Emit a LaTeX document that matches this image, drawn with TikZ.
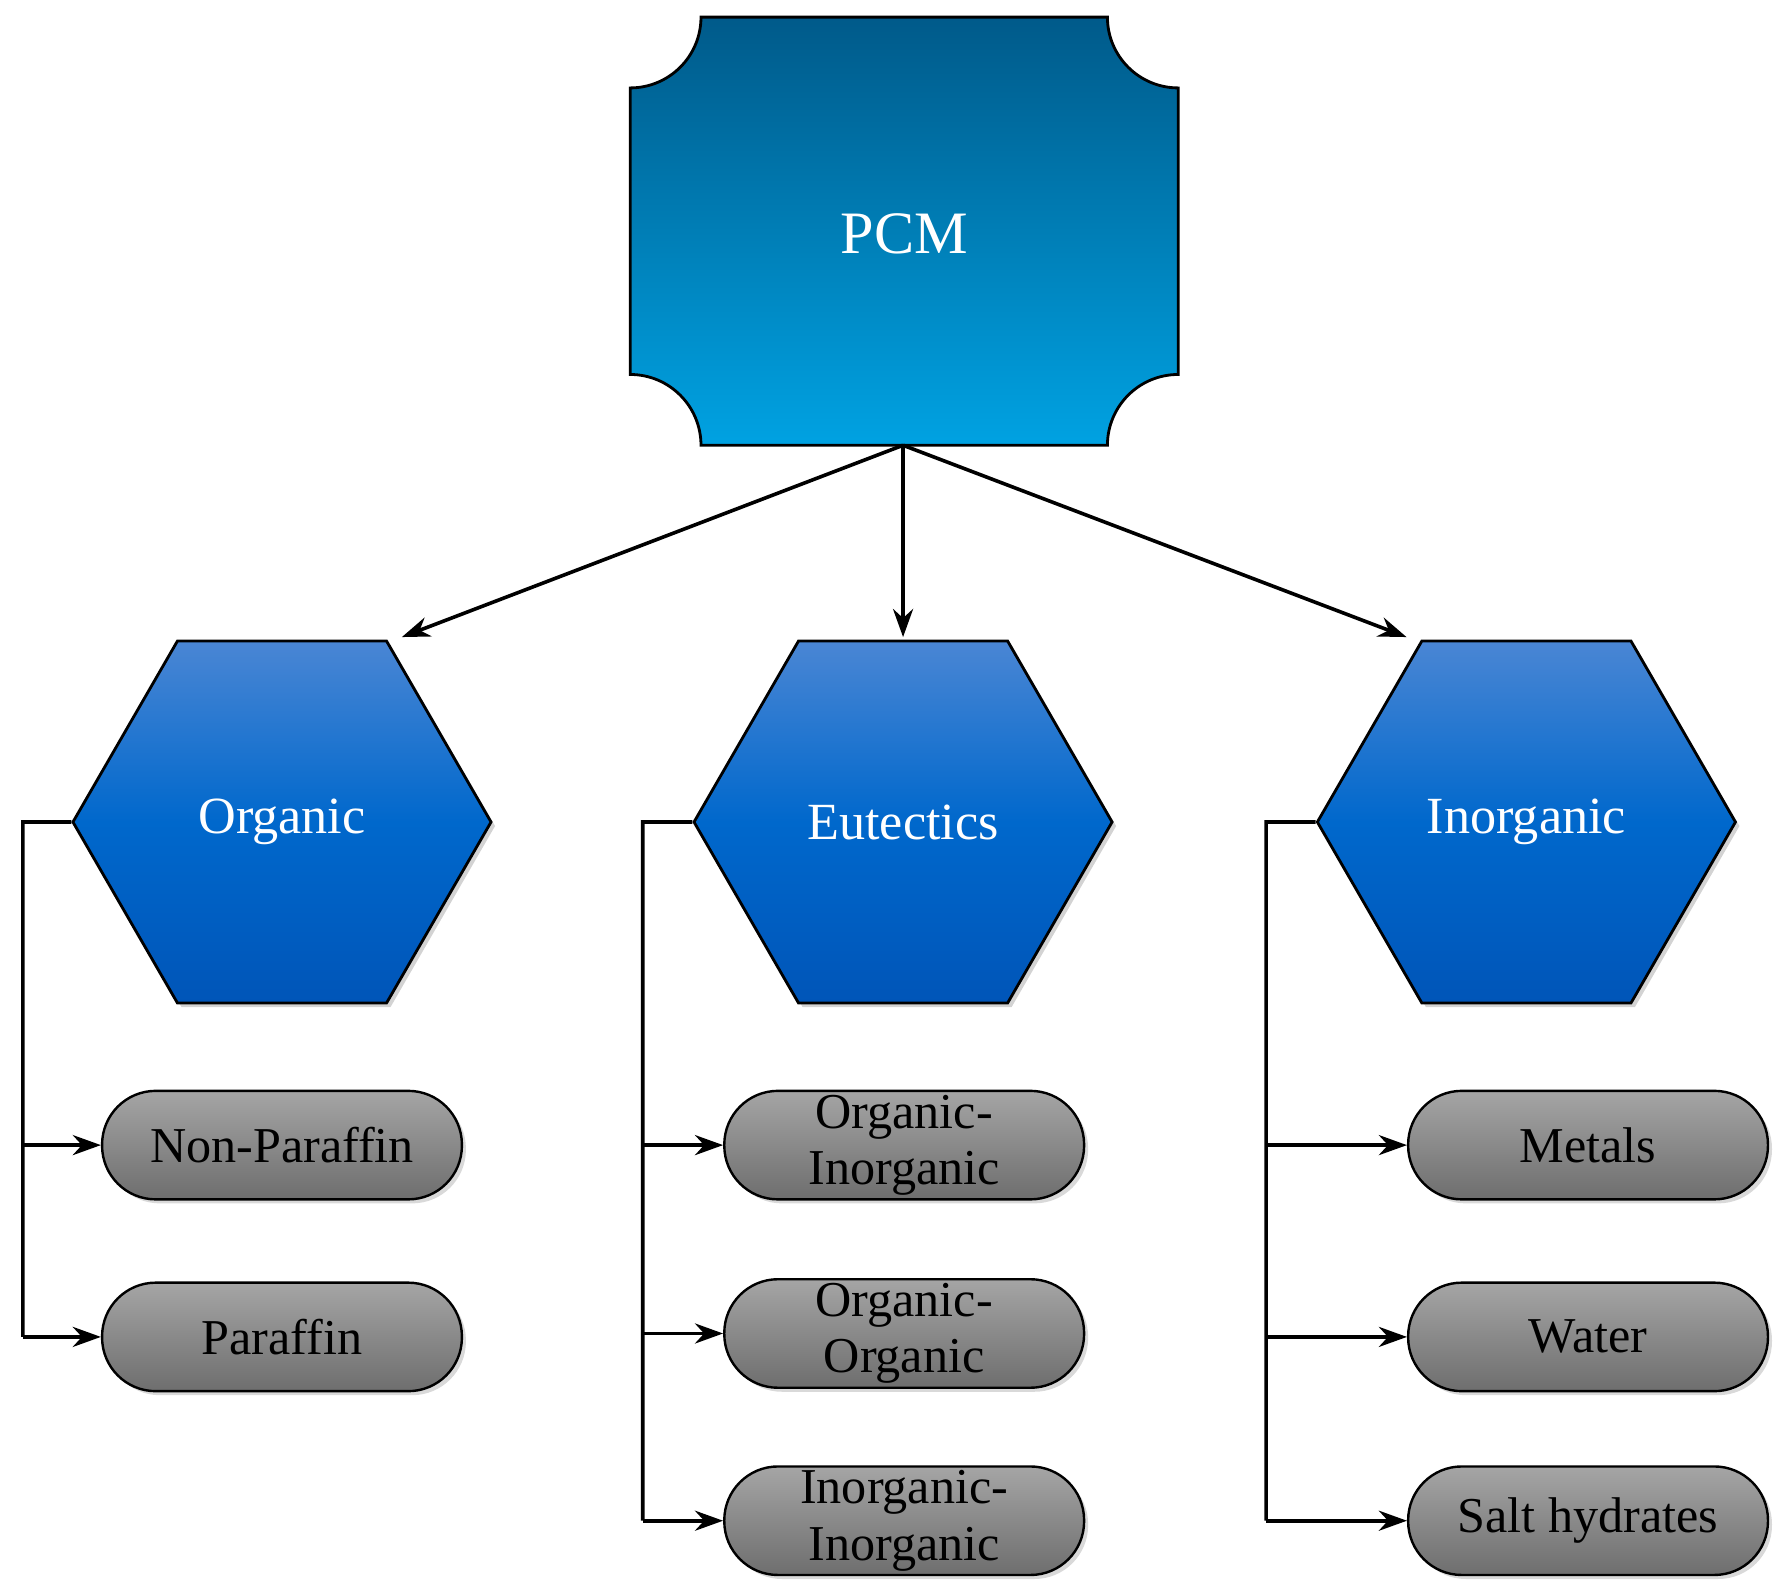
\documentclass[tikz,border=0pt]{standalone}
\usepackage{fontspec}
\setmainfont{Liberation Serif}
\usetikzlibrary{shapes.geometric,arrows.meta,shadows}
\begin{document}
\begin{tikzpicture}[x=0.01cm,y=-0.01cm,
 hex/.style={regular polygon,regular polygon sides=6,minimum size=3.66cm,inner sep=0pt,draw=black,line width=0.7pt,
   top color={rgb,255:red,74;green,134;blue,212},bottom color={rgb,255:red,0;green,85;blue,184},middle color={rgb,255:red,0;green,104;blue,204},
   text=white,font=\fontsize{13}{14}\selectfont,drop shadow={opacity=0.35,shadow xshift=1pt,shadow yshift=-1pt}},
 pill/.style={draw=black,line width=0.6pt,rounded corners=0.47cm,minimum width=3.15cm,minimum height=0.95cm,inner sep=0pt,
   top color={rgb,255:red,165;green,165;blue,165},bottom color={rgb,255:red,110;green,110;blue,110},
   align=center,font=\fontsize{12.5}{14}\selectfont,drop shadow={opacity=0.3,shadow xshift=1pt,shadow yshift=-1pt}},
 arr/.style={-{Stealth[length=7pt,width=5pt]},line width=0.9pt},
 ln/.style={line width=0.9pt}]
\useasboundingbox (0,0) rectangle (1560,1393);
% PCM shape
\draw[line width=0.7pt,top color={rgb,255:red,0;green,90;blue,138},bottom color={rgb,255:red,0;green,162;blue,226}]
 (614,15) -- (970,15) arc[start angle=180,end angle=90,radius=62] -- (1032,328)
 arc[start angle=270,end angle=180,radius=62] -- (614,390) arc[start angle=0,end angle=-90,radius=62]
 -- (552,77) arc[start angle=90,end angle=0,radius=62] -- cycle;
\node[text=white,font=\fontsize{15}{16}\selectfont] (pcm) at (792,205) {PCM};
\coordinate (pcmb) at (791,390);
% hexagons
\node[hex] (org) at (247,720) {Organic};
\node[hex] (eut) at (791,720) {Eutectics};
\node[hex] (ino) at (1337,720) {Inorganic};
\coordinate (orgT) at (352,558);
\coordinate (eutT) at (791,558);
\coordinate (inoT) at (1232,558);
\draw[arr] (pcmb) -- (orgT);
\draw[arr] (pcmb) -- (eutT);
\draw[arr] (pcmb) -- (inoT);
% pills
\node[pill] (np) at (247,1003) {Non-Paraffin};
\node[pill] (pa) at (247,1171) {Paraffin};
\node[pill] (oi) at (792,1003) {Organic-\\Inorganic};
\node[pill] (oo) at (792,1168) {Organic-\\Organic};
\node[pill] (ii) at (792,1332) {Inorganic-\\Inorganic};
\node[pill] (me) at (1391,1003) {Metals};
\node[pill] (wa) at (1391,1171) {Water};
\node[pill] (sh) at (1391,1332) {Salt hydrates};
% brackets
\draw[ln] (org.west) -- (20,720) -- (20,1171);
\draw[arr] (20,1003) -- (np.west);
\draw[arr] (20,1171) -- (pa.west);
\draw[ln] (eut.west) -- (563,720) -- (563,1332);
\draw[arr] (563,1003) -- (oi.west);
\draw[arr] (563,1168) -- (oo.west);
\draw[arr] (563,1332) -- (ii.west);
\draw[ln] (ino.west) -- (1109,720) -- (1109,1332);
\draw[arr] (1109,1003) -- (me.west);
\draw[arr] (1109,1171) -- (wa.west);
\draw[arr] (1109,1332) -- (sh.west);
\end{tikzpicture}
\end{document}
